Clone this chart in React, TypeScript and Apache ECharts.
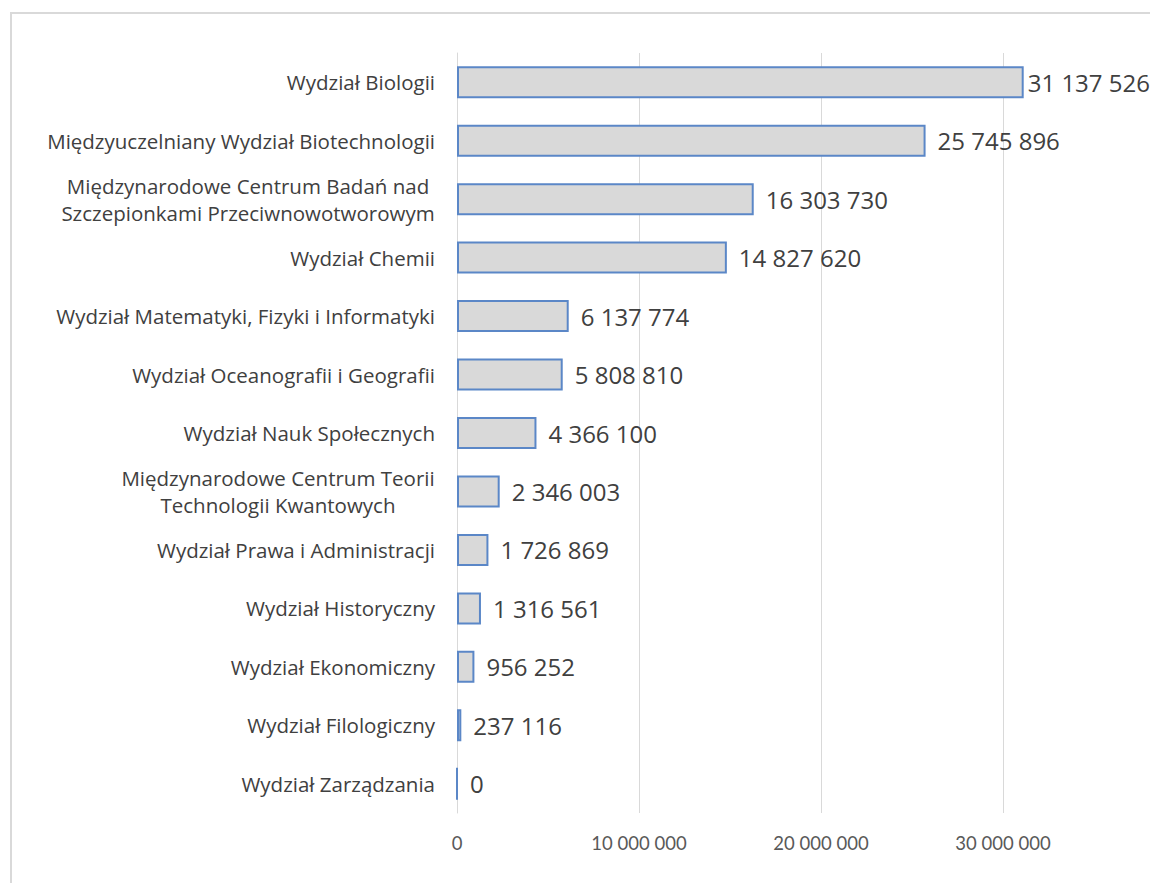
import React, { useEffect, useRef } from "react";
import * as echarts from "echarts";

const categories = [
  "Wydział Biologii",
  "Międzyuczelniany Wydział Biotechnologii",
  "Międzynarodowe Centrum Badań nad\nSzczepionkami Przeciwnowotworowym",
  "Wydział Chemii",
  "Wydział Matematyki, Fizyki i Informatyki",
  "Wydział Oceanografii i Geografii",
  "Wydział Nauk Społecznych",
  "Międzynarodowe Centrum Teorii\nTechnologii Kwantowych",
  "Wydział Prawa i Administracji",
  "Wydział Historyczny",
  "Wydział Ekonomiczny",
  "Wydział Filologiczny",
  "Wydział Zarządzania",
];

const values = [
  31137526, 25745896, 16303730, 14827620, 6137774, 5808810, 4366100, 2346003,
  1726869, 1316561, 956252, 237116, 0,
];

const axisMin = 0;
const axisMax = 40000000;
const axisInterval = 10000000;
const tickLabelsShown = [0, 10000000, 20000000, 30000000];

const CAT_FONT = "'Open Sans', Lato, sans-serif";
const CAT_SIZE = 20.5;
const TWO_LINE_HEIGHT = 27;

function fmt(v: number): string {
  return String(v).replace(/\B(?=(\d{3})+(?!\d))/g, " ");
}

function measure(text: string, size: number): number {
  const c = document.createElement("canvas");
  const ctx = c.getContext("2d");
  if (!ctx) return text.length * size * 0.5;
  ctx.font = `${size}px 'Open Sans'`;
  return ctx.measureText(text).width;
}

export default function App() {
  const ref = useRef<HTMLDivElement>(null);

  useEffect(() => {
    if (!ref.current) return;
    const chart = echarts.init(ref.current, undefined, { renderer: "svg" });

    const rich: Record<string, any> = {};
    categories.forEach((c, i) => {
      if (c.includes("\n")) {
        const lines = c.split("\n");
        const w = Math.max(...lines.map((l) => measure(l, CAT_SIZE)));
        rich["c" + i] = {
          width: Math.ceil(w),
          align: "center",
          fontSize: CAT_SIZE,
          fontFamily: CAT_FONT,
          color: "#404040",
          lineHeight: TWO_LINE_HEIGHT,
        };
      }
    });

    chart.setOption({
      animation: false,
      backgroundColor: "#ffffff",
      graphic: [
        {
          type: "rect",
          shape: { x: 11, y: 13, width: 1300, height: 1000 },
          style: { fill: "none", stroke: "#d9d9d9", lineWidth: 2 },
          silent: true,
          z: -10,
        },
      ],
      grid: {
        left: 457,
        top: 53,
        width: 728,
        height: 760,
        containLabel: false,
        outerBoundsMode: "none",
      },
      xAxis: {
        type: "value",
        min: axisMin,
        max: axisMax,
        interval: axisInterval,
        axisLine: { show: false },
        axisTick: { show: false },
        splitLine: { show: true, lineStyle: { color: "#d9d9d9", width: 1 } },
        axisLabel: {
          margin: 20,
          fontSize: 18.5,
          fontFamily: "Lato, sans-serif",
          color: "#595959",
          formatter: (v: number) =>
            tickLabelsShown.includes(v) ? fmt(v) : "",
        },
      },
      yAxis: {
        type: "category",
        data: categories,
        inverse: true,
        axisLine: { show: true, lineStyle: { color: "#d9d9d9", width: 1 } },
        axisTick: { show: false },
        axisLabel: {
          margin: 22,
          fontSize: CAT_SIZE,
          fontFamily: CAT_FONT,
          color: "#404040",
          lineHeight: TWO_LINE_HEIGHT,
          rich,
          formatter: (value: string, index: number) => {
            if (value.includes("\n")) {
              return value
                .split("\n")
                .map((l) => `{c${index}|${l}}`)
                .join("\n");
            }
            return value;
          },
        },
      },
      series: [
        {
          type: "bar",
          data: values.map((v, i) =>
            i === 0 ? { value: v, label: { distance: 4 } } : v
          ),
          barWidth: 32,
          itemStyle: {
            color: "#d9d9d9",
            borderColor: "#5b87c7",
            borderWidth: 2,
          },
          label: {
            show: true,
            position: "right",
            distance: 12,
            fontSize: 24,
            fontFamily: CAT_FONT,
            color: "#404040",
            formatter: (p: any) => fmt(p.value),
          },
        },
      ],
    });

    return () => chart.dispose();
  }, []);

  return (
    <div
      ref={ref}
      style={{ position: "fixed", left: 0, top: 0, width: 1150, height: 883 }}
    />
  );
}
